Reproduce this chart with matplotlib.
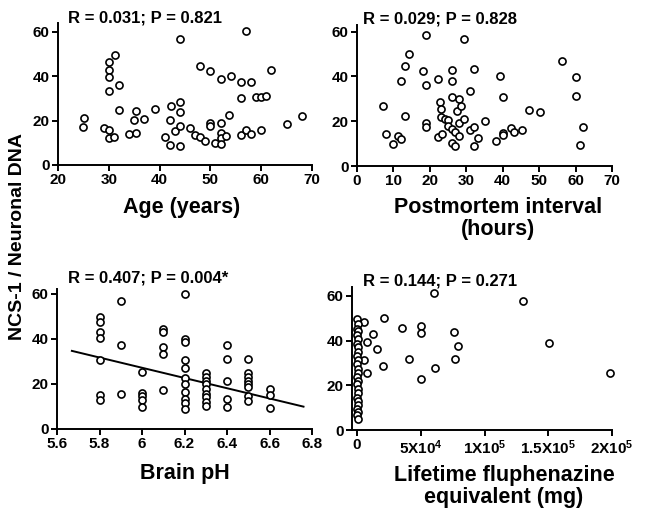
import matplotlib
matplotlib.use("Agg")
import matplotlib.pyplot as plt
import numpy as np

plt.rcParams['font.family'] = ['Liberation Sans', 'DejaVu Sans']
plt.rcParams['font.weight'] = 'bold'
plt.rcParams['mathtext.fontset'] = 'custom'
plt.rcParams['mathtext.rm'] = 'Liberation Sans:bold'
plt.rcParams['mathtext.it'] = 'Liberation Sans:bold'
plt.rcParams['mathtext.bf'] = 'Liberation Sans:bold'
plt.rcParams['mathtext.default'] = 'rm'

# ---- Panel A: Age ----
age_x = [25.1, 25, 29, 30, 30, 30, 30, 30, 30, 31.2, 31, 32, 32, 34, 35.3, 35, 35.3,
         37, 39, 41, 42.2, 42, 42, 43, 44, 44, 44, 44, 44, 46, 47, 48, 48, 49, 50, 50, 50,
         51, 52, 52, 52, 52, 52, 53, 53.6, 54, 56, 56, 56, 57, 57, 58, 58, 59, 60, 61,
         60, 62, 65, 68]
age_y = [21, 17.3, 16.8, 46.5, 43, 39.5, 33.3, 16, 12, 49.8, 12.8, 36, 24.8, 14, 24.5, 20.2, 14.5,
         20.8, 25.2, 12.5, 26.8, 20.5, 8.8, 15.3, 56.7, 28.5, 24, 17.5, 8.4, 16.8, 13.4, 44.5, 12.5,
         10.8, 42.5, 19, 17.4, 9.7, 38.8, 19, 14.3, 12, 9.3, 13, 22.5, 40, 37.5, 30, 13.7, 60.5, 16,
         37.5, 14, 30.8, 30.8, 31.2, 16, 42.8, 18.5, 22.2]

# ---- Panel B: Postmortem interval ----
pmi_x = [7.1, 8, 10, 11.3, 12.2, 12.2, 13.2, 13.2, 14.2, 18, 19, 19, 19, 19, 22.1, 22.1, 22.7,
         23, 23, 23.3, 24.1, 25, 25, 26, 26, 26, 26, 26, 27, 27, 27.5, 28, 28.5, 28, 28, 29.3,
         29.3, 31.1, 31.1, 32.2, 32.2, 32.2, 33.1, 35.1, 38.2, 39.2, 40.2, 40.2, 40.2, 42.2,
         43.2, 45.2, 47.2, 50.1, 56.3, 60, 60, 62.1, 61.1]
pmi_y = [27, 14.3, 10, 13.3, 12.1, 37.8, 44.5, 22.4, 49.9, 42.5, 58.5, 36.3, 19.3, 17.6, 39, 12.8,
         28.4, 25.5, 21.9, 14.2, 21, 20.7, 18, 43, 37.8, 30.9, 16.7, 10.3, 15, 9, 24.5, 30.1, 27,
         19.3, 13.3, 56.9, 21.2, 33.4, 16.3, 43.3, 17.5, 8.8, 12.5, 20.1, 11.2, 40.1, 30.9, 14.8,
         13.7, 17, 15.4, 16.3, 24.9, 24.3, 46.9, 39.7, 31.3, 17.5, 9.6]

# ---- Panel C: Brain pH ----
ph_x = [5.8] * 7 + [5.9] * 3 + [6.0] * 5 + [6.1] * 5 + [6.2] * 11 + [6.3] * 9 + [6.4] * 5 \
       + [6.5] * 8 + [6.6] * 3
ph_y = [49.7, 47.5, 43, 40.2, 30.5, 15, 12.7,
        56.8, 37.4, 15.5,
        25.4, 16, 14.7, 12.8, 9.6,
        44.2, 42.8, 36.4, 33.2, 17.1,
        59.7, 40, 38.5, 30.7, 26.8, 22.4, 19.9, 16.5, 13.5, 11.3, 8.8,
        25, 23.1, 21.3, 19.9, 17.6, 15.7, 14, 12, 10.1,
        37.4, 31.2, 21.3, 13.5, 9.8,
        31.2, 25, 23.1, 21.3, 19.9, 18.7, 14.6, 12.5,
        17.6, 15, 9.1]
ph_fit_x = [5.67, 6.76]
ph_fit_y = [34.6, 9.9]

# ---- Panel D: Lifetime fluphenazine ----
flu_x = [5200, 5200, 7800, 7800, 12500, 15700, 20900, 20400, 35600, 40500, 50200, 50200, 50200,
         60100, 61400, 75800, 76600, 79000, 130000, 150300, 198200,
         300, 600, 200, 500, 300, 700, 200, 400, 600, 300, 500, 200, 600, 400, 300, 500, 200,
         600, 400, 300, 500, 700, 300, 500, 200, 400]
flu_y = [48.5, 31.3, 39.4, 25.4, 42.8, 36.4, 50.3, 28.8, 45.5, 31.6, 46.7, 43.6, 22.7,
         61.2, 27.6, 44, 31.6, 37.6, 57.9, 38.8, 25.4,
         49.5, 47.6, 45.4, 44.1, 42.3, 40.6, 38.4, 37.1, 35.0, 33.2, 31.4, 29.6, 27.3, 25.7,
         23.9, 22.0, 20.6, 18.4, 16.7, 14.5, 13.1, 11.0, 9.6, 8.0, 6.6, 5.0]

W, H = 648, 508
fig = plt.figure(figsize=(W / 100, H / 100), dpi=100)


def add_ax(l, r, t, b):
    return fig.add_axes([l / W, 1 - b / H, (r - l) / W, (b - t) / H])


def style(ax):
    for s in ['top', 'right']:
        ax.spines[s].set_visible(False)
    for s in ['left', 'bottom']:
        ax.spines[s].set_linewidth(1.4)
    ax.tick_params(direction='out', length=4, width=1.4, labelsize=11, pad=2)
    ax.set_yticks([0, 20, 40, 60])
    ax.set_yticklabels(['0', '20', '40', '60'])


def scat(ax, x, y):
    ax.scatter(x, y, s=26, facecolors='white', edgecolors='black', linewidths=1.2,
               zorder=3, clip_on=False)


ax1 = add_ax(58, 312, 23, 165)
scat(ax1, age_x, age_y)
ax1.set_xlim(20, 70)
ax1.set_ylim(0, 64)
style(ax1)
ax1.set_xticks([20, 30, 40, 50, 60, 70])

ax2 = add_ax(357, 612, 25, 166)
scat(ax2, pmi_x, pmi_y)
ax2.set_xlim(0, 70)
ax2.set_ylim(0, 63)
style(ax2)
ax2.set_xticks([0, 10, 20, 30, 40, 50, 60, 70])

ax3 = add_ax(57, 312, 289, 429)
scat(ax3, ph_x, ph_y)
ax3.plot(ph_fit_x, ph_fit_y, color='black', lw=1.4, zorder=2)
ax3.set_xlim(5.6, 6.8)
ax3.set_ylim(0, 62)
style(ax3)
ax3.set_xticks([5.6, 5.8, 6.0, 6.2, 6.4, 6.6, 6.8])
ax3.set_xticklabels(['5.6', '5.8', '6', '6.2', '6.4', '6.6', '6.8'])

ax4 = add_ax(352, 612, 287, 430)
scat(ax4, flu_x, flu_y)
ax4.set_xlim(-4000, 200000)
ax4.set_ylim(0, 64)
style(ax4)
ax4.set_xticks([0, 50000, 100000, 150000, 200000])
ax4.set_xticklabels(['0', r'5X10$^{4}$', r'1X10$^{5}$', r'1.5X10$^{5}$', r'2X10$^{5}$'])


def ftxt(x, y, s, size, ha='center', **kw):
    fig.text(x / W, 1 - y / H, s, fontsize=size, fontweight='bold', ha=ha, va='center', **kw)


ftxt(68, 18, 'R = 0.031; P = 0.821', 12, ha='left')
ftxt(363, 19, 'R = 0.029; P = 0.828', 12, ha='left')
ftxt(68, 278, 'R = 0.407; P = 0.004*', 12, ha='left')
ftxt(363, 281, 'R = 0.144; P = 0.271', 12, ha='left')

ftxt(182, 208, 'Age (years)', 15.5)
ftxt(498, 208, 'Postmortem interval', 15.5)
ftxt(498, 230, '(hours)', 15.5)
ftxt(185, 473, 'Brain pH', 15.5)
ftxt(504, 475, 'Lifetime fluphenazine', 15.5)
ftxt(504, 498, 'equivalent (mg)', 15.5)

ftxt(18, 236, 'NCS-1 / Neuronal DNA', 14, rotation=90)

fig.savefig('out.png', dpi=100)
